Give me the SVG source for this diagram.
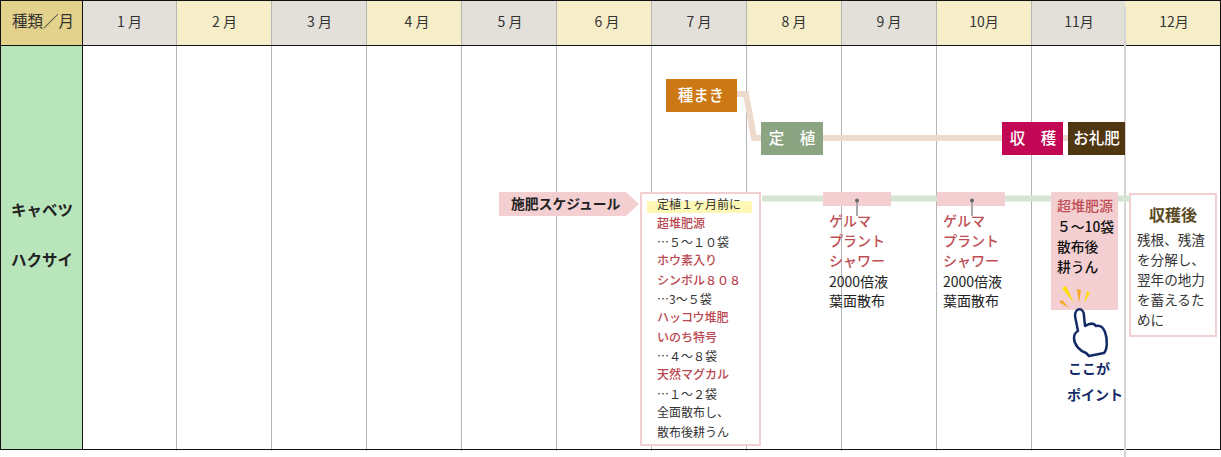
<svg xmlns="http://www.w3.org/2000/svg" width="1221" height="457" viewBox="0 0 1221 457">
<style>
text{font-family:"Noto Sans CJK JP","Liberation Sans",sans-serif;fill:#222}
.m{font-size:14px;text-anchor:middle;fill:#333}
.w{font-size:15.5px;fill:#fff;text-anchor:middle;font-weight:500}
.r{font-size:12px;fill:#b9474f;font-weight:500}
.k{font-size:12px;fill:#333}
.g{font-size:14px;fill:#bf4f56;font-weight:500}
.b{font-size:14px;fill:#222}
.a{font-size:13.6px;fill:#333}
.n{font-size:13.8px;font-weight:500;fill:#111}
.v{stroke:#b5b5b5;stroke-width:1}
.pk{fill:#f4cfd1}
.nv{font-size:14px;font-weight:700;fill:#142a66}
</style>
<rect width="1221" height="457" fill="#fff"/>
<g id="header">
<rect x="0" y="0" width="82" height="45" fill="#e3d28b"/>
<rect x="82" y="0" width="94.500" height="45" fill="#e3e0da"/>
<rect x="176.500" y="0" width="95" height="45" fill="#f6edc9"/>
<rect x="271.500" y="0" width="95" height="45" fill="#e3e0da"/>
<rect x="366.500" y="0" width="95" height="45" fill="#f6edc9"/>
<rect x="461.500" y="0" width="95" height="45" fill="#e3e0da"/>
<rect x="556.500" y="0" width="95" height="45" fill="#f6edc9"/>
<rect x="651.500" y="0" width="95" height="45" fill="#e3e0da"/>
<rect x="746.500" y="0" width="95" height="45" fill="#f6edc9"/>
<rect x="841.500" y="0" width="95" height="45" fill="#e3e0da"/>
<rect x="936.500" y="0" width="95" height="45" fill="#f6edc9"/>
<rect x="1031.500" y="0" width="94" height="45" fill="#e3e0da"/>
<rect x="1125.500" y="0" width="95.500" height="45" fill="#f6edc9"/>
<text x="43" y="27" text-anchor="middle" font-size="15.500" style="fill:#333">種類／月</text>
<text class="m" x="129.500" y="27">1 月</text>
<text class="m" x="224.500" y="27">2 月</text>
<text class="m" x="319.500" y="27">3 月</text>
<text class="m" x="417" y="27">4 月</text>
<text class="m" x="510" y="27">5 月</text>
<text class="m" x="607" y="27">6 月</text>
<text class="m" x="699" y="27">7 月</text>
<text class="m" x="794" y="27">8 月</text>
<text class="m" x="889" y="27">9 月</text>
<text class="m" x="984" y="27">10月</text>
<text class="m" x="1079" y="27">11月</text>
<text class="m" x="1174" y="27">12月</text>
</g>
<g id="row-label">
<rect x="0" y="45" width="82" height="405" fill="#b9e5bb"/>
<text x="42" y="216" font-size="15.500" font-weight="700" text-anchor="middle">キャベツ</text>
<text x="42" y="265.500" font-size="15.500" font-weight="700" text-anchor="middle">ハクサイ</text>
</g>
<g id="grid">
<path class="v" d="M176.500 0V451M271.500 0V451M366.500 0V451M461.500 0V451M556.500 0V451M651.500 0V451M746.500 0V451M841.500 0V451M936.500 0V451M1031.500 0V451"/>
<path d="M0 .5H1221M0 45.500H1220M0 449.500H1220M.5 0V450M82.500 0V450M1220.500 0V450" stroke="#111" stroke-width="1" fill="none"/>
<path d="M1125 7V457" stroke="#d4d4d4" stroke-width="2"/>
</g>
<g id="sow"><rect x="666" y="79" width="71" height="33" fill="#cc7814"/><text class="w" x="701" y="101">種まき</text></g>
<g id="plant"><rect x="761" y="122" width="62" height="33" fill="#8ba583"/><text class="w" x="792" y="144" xml:space="preserve">定　植</text></g>
<g id="harvest"><rect x="1002" y="122" width="61" height="33" fill="#c20855"/><text class="w" x="1033" y="144" xml:space="preserve">収　穫</text></g>
<g id="orei"><rect x="1068" y="122" width="57" height="33" fill="#4f3712"/><text class="w" x="1096.500" y="144" font-size="16">お礼肥</text></g>
<g id="schedule">
<polygon class="pk" points="499,192 626,192 639,204 626,216 499,216"/>
<text x="511" y="209" font-size="13.800" font-weight="700">施肥スケジュール</text>
</g>
<g id="fert-box">
<rect x="641" y="193" width="119" height="252" fill="#fff" stroke="#f4cfd1" stroke-width="2"/>
<rect x="647" y="201" width="105" height="12" fill="#fdf8b5"/>
<text class="k" x="657" y="209">定植１ヶ月前に</text>
<text class="r" x="657" y="228">超堆肥源</text>
<text class="k" x="657" y="247">…５～１０袋</text>
<text class="r" x="657" y="265">ホウ素入り</text>
<text class="r" x="657" y="285">シンボル８０８</text>
<text class="k" x="657" y="304">…3～５袋</text>
<text class="r" x="657" y="322">ハッコウ堆肥</text>
<text class="r" x="657" y="342">いのち特号</text>
<text class="k" x="657" y="361">…４～８袋</text>
<text class="r" x="657" y="379">天然マグカル</text>
<text class="k" x="657" y="399">…１～２袋</text>
<text class="k" x="657" y="417">全面散布し、</text>
<text class="k" x="657" y="437">散布後耕うん</text>
</g>
<g id="sep">
<rect class="pk" x="823" y="192" width="68" height="14"/>
<text class="g" x="829" y="226">ゲルマ</text><text class="g" x="829" y="246">プラント</text><text class="g" x="829" y="266">シャワー</text>
<text class="b" x="829" y="286.500">2000倍液</text><text class="b" x="829" y="306">葉面散布</text>
</g>
<g id="oct">
<rect class="pk" x="937" y="192" width="68" height="14"/>
<text class="g" x="943" y="226">ゲルマ</text><text class="g" x="943" y="246">プラント</text><text class="g" x="943" y="266">シャワー</text>
<text class="b" x="943" y="286.500">2000倍液</text><text class="b" x="943" y="306">葉面散布</text>
</g>
<g id="nov">
<rect class="pk" x="1051" y="192" width="67" height="118"/>
<text class="g" x="1057" y="211">超堆肥源</text>
<text class="n" x="1057" y="232">５～10袋</text>
<text class="n" x="1057" y="252">散布後</text>
<text class="n" x="1057" y="272">耕うん</text>
<path d="M1062 288L1066 286L1074 303Z" fill="#ffdd00"/>
<path d="M1077 289L1081 290L1079 303Z" fill="#f7a823"/>
<path d="M1087 291L1090 293L1084 303Z" fill="#ffdd00"/>
<path d="M1059 302L1062 300L1069 308Z" fill="#f7a823"/>
</g>
<g id="hand">
<path d="M1075 316C1075 307 1084 307 1084 316L1085 326C1090 323 1094 323 1096 326C1100 325 1103 327 1105 332C1108 340 1107 350 1104 353L1089 356L1086 353C1080 351 1074 345 1074 338C1074 335 1076 332 1078 331Z" fill="#fff" stroke="#142a66" stroke-width="2.500" stroke-linejoin="round"/>
<text class="nv" x="1068" y="374" style="fill:#142a66">ここが</text>
<text class="nv" x="1067" y="400" style="fill:#142a66">ポイント</text>
</g>
<g id="after">
<rect x="1130" y="194" width="86" height="142" fill="#fff" stroke="#f4cfd1" stroke-width="2"/>
<text x="1173" y="221" font-size="16" font-weight="700" text-anchor="middle" style="fill:#5c4a24">収穫後</text>
<text class="a" x="1137" y="245">残根、残渣</text>
<text class="a" x="1137" y="265">を分解し、</text>
<text class="a" x="1137" y="285">翌年の地力</text>
<text class="a" x="1137" y="305">を蓄えるた</text>
<text class="a" x="1137" y="325">めに</text>
</g>
<g id="connectors" fill="none">
<path d="M737 94H746L754 138H761M823 138H1002M1063 138H1068" stroke="#eed9cd" stroke-width="6"/>
<path d="M762 198.500H823M891 198.500H937M1005 198.500H1051M1118 198.500H1130" stroke="#d6e5d3" stroke-width="6"/>
<path d="M857 200V216M972 200V216" stroke="#aaa" stroke-width="2"/>
<circle cx="857" cy="200.500" r="2" fill="#666"/>
<circle cx="972" cy="200.500" r="2" fill="#666"/>
</g>
</svg>
